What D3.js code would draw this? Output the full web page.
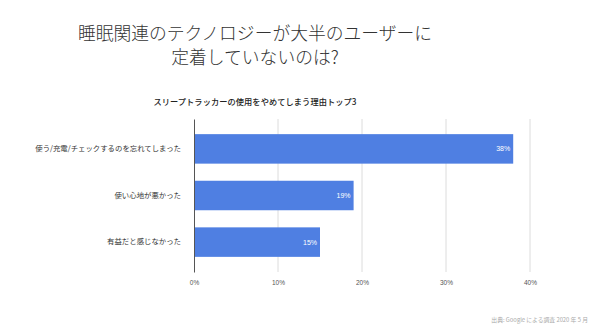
<!DOCTYPE html>
<html>
<head>
<meta charset="utf-8">
<script src="https://cdn.jsdelivr.net/npm/d3@7"></script>
<style>
  body { margin: 0; background: #fff; }
  svg { display: block; font-family: "Noto Sans CJK JP", "Noto Sans", sans-serif; }
</style>
</head>
<body>
<div id="chart"></div>
<script>
const titleLines = ["睡眠関連のテクノロジーが大半のユーザーに", "定着していないのは?"];
const subtitle = "スリープトラッカーの使用をやめてしまう理由トップ3";
const categories = ["使う/充電/チェックするのを忘れてしまった", "使い心地が悪かった", "有益だと感じなかった"];
const values = [38, 19, 15];
const xTicks = [0, 10, 20, 30, 40];
const source = "出典: Google による調査 2020 年 5 月";

const width = 590;
const height = 328;
const margin = { top: 119, right: 60, bottom: 56, left: 194 };
const barColor = "#4f7fe2";

const svg = d3.select("#chart")
  .append("svg")
  .attr("width", width)
  .attr("height", height);

svg.append("rect")
  .attr("width", width)
  .attr("height", height)
  .attr("fill", "#fff");

// title
svg.append("g")
  .selectAll("text")
  .data(titleLines)
  .enter()
  .append("text")
  .attr("x", 255)
  .attr("y", (d, i) => 40 + i * 24)
  .attr("text-anchor", "middle")
  .attr("font-size", 17.8)
  .attr("font-weight", 300)
  .attr("fill", "#333")
  .text(d => d);

svg.append("text")
  .attr("x", 255)
  .attr("y", 105)
  .attr("text-anchor", "middle")
  .attr("font-size", 8.2)
  .attr("font-weight", 500)
  .attr("letter-spacing", 0.1)
  .attr("fill", "#222")
  .text(subtitle);

const x = d3.scaleLinear()
  .domain([0, 40])
  .range([margin.left, 530]);

const y = d3.scaleBand()
  .domain(categories)
  .range([margin.top, height - margin.bottom])
  .paddingInner(0.367)
  .paddingOuter(0.325);

// grid lines
svg.append("g")
  .selectAll("line")
  .data(xTicks.slice(1))
  .enter()
  .append("line")
  .attr("x1", d => x(d))
  .attr("x2", d => x(d))
  .attr("y1", margin.top)
  .attr("y2", height - margin.bottom)
  .attr("stroke", "#dcdcdc")
  .attr("stroke-width", 1);

// bottom tick labels
const xAxis = d3.axisBottom(x)
  .tickValues(xTicks)
  .tickSize(0)
  .tickPadding(8)
  .tickFormat(d => d + "%");

const xg = svg.append("g")
  .attr("transform", `translate(0, ${height - margin.bottom})`)
  .call(xAxis);
xg.select(".domain").remove();
xg.selectAll("text")
  .attr("font-size", 6.5)
  .attr("font-family", "Liberation Sans, sans-serif")
  .attr("fill", "#555");

// bars
svg.append("g")
  .selectAll("rect")
  .data(values)
  .enter()
  .append("rect")
  .attr("x", x(0))
  .attr("y", (d, i) => y(categories[i]))
  .attr("width", d => x(d) - x(0))
  .attr("height", y.bandwidth())
  .attr("fill", barColor);

svg.append("g")
  .selectAll("text")
  .data(values)
  .enter()
  .append("text")
  .attr("x", d => x(d) - 3)
  .attr("y", (d, i) => y(categories[i]) + y.bandwidth() / 2)
  .attr("dy", "0.35em")
  .attr("text-anchor", "end")
  .attr("font-size", 7)
  .attr("font-family", "Liberation Sans, sans-serif")
  .attr("fill", "#fff")
  .text(d => d + "%");

// left axis line and category labels
const yAxis = d3.axisLeft(y).tickSize(0).tickPadding(13);
const yg = svg.append("g")
  .attr("transform", `translate(${margin.left}, 0)`)
  .call(yAxis);
yg.select(".domain")
  .attr("stroke", "#555")
  .attr("stroke-width", 1);
yg.selectAll("text")
  .attr("font-size", 7.4)
  .attr("font-family", "Noto Sans CJK JP, sans-serif")
  .attr("fill", "#333");

svg.append("text")
  .attr("x", 588)
  .attr("y", 322)
  .attr("text-anchor", "end")
  .attr("font-size", 5.8)
  .attr("fill", "#aaa")
  .text(source);
</script>
</body>
</html>
